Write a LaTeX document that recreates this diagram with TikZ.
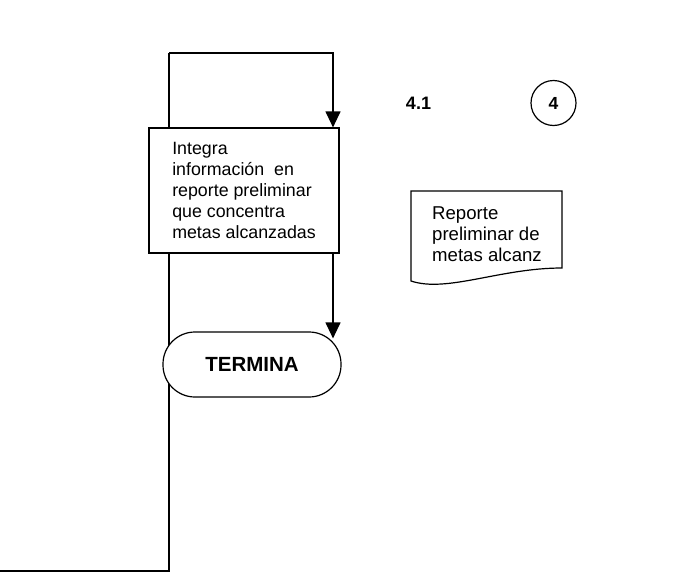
\documentclass[tikz,border=0pt]{standalone}
\usepackage{fontspec}
\setmainfont{Liberation Sans}
\usetikzlibrary{arrows.meta, positioning}
\tikzstyle{process} = [rectangle, minimum width=190pt, minimum height=125pt, align=left, draw=black, fill=white, line width=1.2pt, font=\fontsize{17.8}{21}\selectfont]
\tikzstyle{terminal} = [rectangle, rounded corners=32pt, minimum width=178pt, minimum height=65pt, draw=black, fill=white, line width=1.2pt, font=\fontsize{20.5}{24}\selectfont\bfseries]
\tikzstyle{connector} = [circle, minimum size=45pt, inner sep=0pt, draw=black, line width=1.2pt, font=\fontsize{17.5}{21}\selectfont\bfseries]
\tikzstyle{arrow} = [line width=1.2pt, -{Triangle[length=16pt,width=15pt]}]

\begin{document}
\begin{tikzpicture}[x=1pt, y=-1pt]
    \useasboundingbox (0,0) rectangle (683,573);

    % flow lines drawn first, shapes cover them
    \coordinate (entrada) at (0,571);
    \coordinate (esquina) at (169,571);
    \coordinate (arriba) at (169,53);
    \draw [line width=1.2pt] (entrada) -- (esquina) -- (arriba);

    \node (integra) [process] at (244,190.5) {Integra\\información~ en\\reporte preliminar\\que concentra\\metas alcanzadas};
    \node (termina) [terminal] at (252,364.5) {TERMINA};

    \draw [arrow] (arriba) -- (333,53) -- (integra.north -| 333,0);
    \draw [arrow] (integra.south -| 333,0) -- ([yshift=-7pt]termina.north -| 333,0);

    % numero de actividad y conector
    \node (num) at (418.5,103) {\fontsize{18}{21}\selectfont\bfseries 4.1};
    \node (conector) [connector] at (553.5,103) {4};

    % documento
    \draw [line width=1.2pt, fill=white] (411,191) -- (562,191) -- (562,268)
        .. controls (500,268) and (447,293) .. (411,281) -- cycle;
    \node (reporte) [anchor=west, inner sep=0pt, align=left, font=\fontsize{18.6}{21}\selectfont] at (432,234) {Reporte\\preliminar de\\metas alcanz};
\end{tikzpicture}
\end{document}
